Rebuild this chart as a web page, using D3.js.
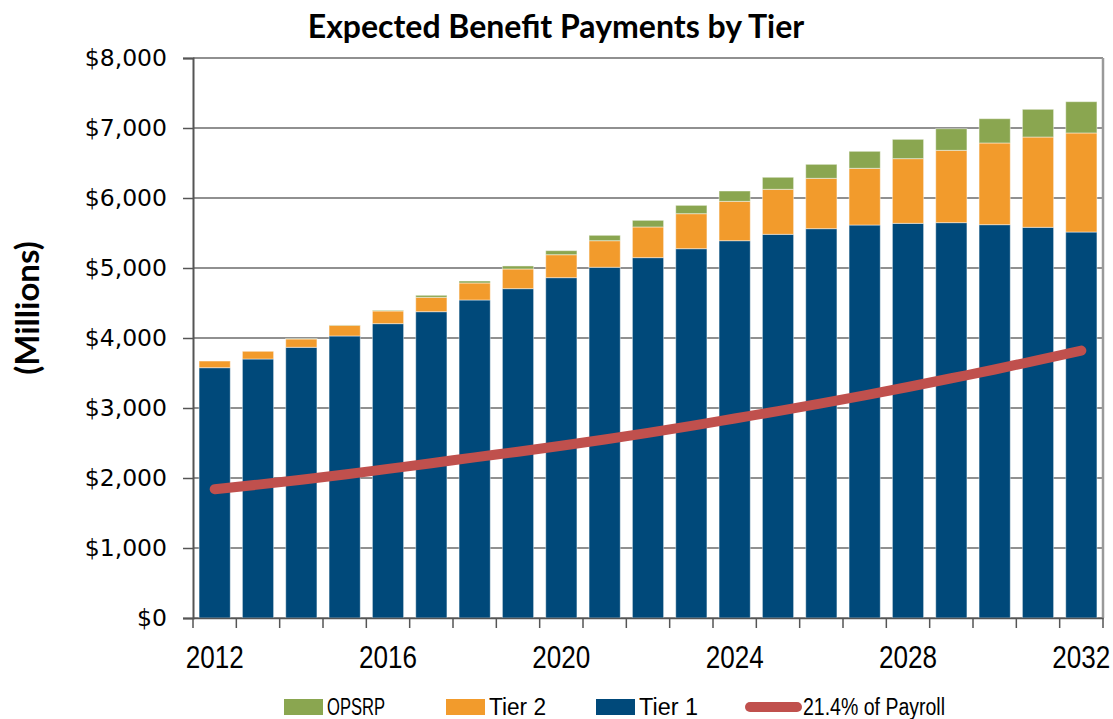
<!DOCTYPE html>
<html>
<head>
<meta charset="utf-8">
<script src="https://cdn.jsdelivr.net/npm/d3@7"></script>
<style>
  body { margin: 0; background: #fff; }
  text { fill: #000; }
</style>
</head>
<body>
<div id="chart"></div>
<script>
var years = [2012, 2013, 2014, 2015, 2016, 2017, 2018, 2019, 2020, 2021, 2022,
             2023, 2024, 2025, 2026, 2027, 2028, 2029, 2030, 2031, 2032];
var tier1 = [3576, 3700, 3867, 4029, 4205, 4376, 4543, 4705, 4862, 5010, 5148,
             5276, 5390, 5481, 5562, 5614, 5638, 5648, 5619, 5581, 5514];
var tier2 = [95, 110, 119, 152, 181, 205, 243, 281, 328, 380, 438,
             500, 562, 643, 719, 810, 924, 1033, 1167, 1290, 1415];
var opsrp = [0, 0, 4, 5, 9, 29, 28, 43, 58, 77, 95,
             119, 148, 172, 200, 243, 276, 309, 347, 396, 447];
var payroll = [1840, 1905, 1975, 2050, 2130, 2210, 2295, 2375, 2460, 2550, 2645,
               2745, 2850, 2955, 3065, 3180, 3300, 3425, 3550, 3685, 3820];
var yTicks = [0, 1000, 2000, 3000, 4000, 5000, 6000, 7000, 8000];
var xLabels = [2012, 2016, 2020, 2024, 2028, 2032];

var series = ["Tier 1", "Tier 2", "OPSRP"];
var colors = { "Tier 1": "#00497a", "Tier 2": "#f29b2c", "OPSRP": "#8aa650" };

var w = 1113, h = 719;
var mLeft = 193, mRight = 1103, mTop = 58, mBottom = 618;

var svg = d3.select("#chart").append("svg")
    .attr("width", w)
    .attr("height", h);

var x = d3.scaleBand()
    .domain(years)
    .range([mLeft, mRight])
    .paddingInner(0.28)
    .paddingOuter(0.14);

var y = d3.scaleLinear()
    .domain([0, 8000])
    .range([mBottom, mTop]);

// gridlines
svg.append("g")
  .selectAll("line")
  .data(yTicks)
  .enter().append("line")
    .attr("x1", mLeft)
    .attr("x2", mRight)
    .attr("y1", function (d) { return y(d); })
    .attr("y2", function (d) { return y(d); })
    .style("stroke", "#6b6b6b")
    .style("stroke-width", 1.5);

// right border
svg.append("line")
    .attr("x1", mRight).attr("x2", mRight)
    .attr("y1", mTop).attr("y2", mBottom)
    .style("stroke", "#9a9a9a")
    .style("stroke-width", 2.5);

var rows = years.map(function (yr, i) {
  return { year: yr, "Tier 1": tier1[i], "Tier 2": tier2[i], "OPSRP": opsrp[i] };
});

var stack = d3.stack().keys(series)(rows);

svg.append("g")
  .selectAll("g")
  .data(stack)
  .enter().append("g")
    .style("fill", function (d) { return colors[d.key]; })
  .selectAll("rect")
  .data(function (d) { return d; })
  .enter().append("rect")
    .attr("x", function (d) { return x(d.data.year); })
    .attr("width", x.bandwidth())
    .attr("y", function (d) { return y(d[1]); })
    .attr("height", function (d) { return y(d[0]) - y(d[1]); })
    .style("stroke", "rgba(255,255,255,0.45)")
    .style("stroke-width", 1);

// payroll line
var line = d3.line()
    .x(function (d, i) { return x(years[i]) + x.bandwidth() / 2; })
    .y(function (d) { return y(d); })
    .curve(d3.curveMonotoneX);

svg.append("path")
    .datum(payroll)
    .attr("d", line)
    .style("fill", "none")
    .style("stroke", "#c0504d")
    .style("stroke-width", 10)
    .style("stroke-linecap", "round");

// y axis
var yAxis = d3.axisLeft(y)
    .tickValues(yTicks)
    .tickSize(10)
    .tickPadding(16)
    .tickFormat(function (d) { return "$" + d3.format(",")(d); });

var gy = svg.append("g")
    .attr("transform", "translate(" + mLeft + ",0)")
    .call(yAxis);
gy.select(".domain").style("stroke", "#555").style("stroke-width", 2);
gy.selectAll(".tick line").style("stroke", "#555").style("stroke-width", 1.5);
gy.selectAll(".tick text")
    .style("font-family", "'DejaVu Sans', sans-serif")
    .style("font-size", "23.5px")
    .style("fill", "#000");

// x axis
var xAxis = d3.axisBottom(x)
    .tickValues([])
    .tickSizeOuter(0);

var gx = svg.append("g")
    .attr("transform", "translate(0," + mBottom + ")")
    .call(xAxis);
gx.select(".domain").style("stroke", "#555").style("stroke-width", 1.5);

var step = x.step();
gx.selectAll("line.cat")
  .data(d3.range(years.length + 1))
  .enter().append("line")
    .attr("class", "cat")
    .attr("x1", function (d) { return mLeft + d * step; })
    .attr("x2", function (d) { return mLeft + d * step; })
    .attr("y1", 0)
    .attr("y2", 10)
    .style("stroke", "#555")
    .style("stroke-width", 1.5);

gx.selectAll("text.yr")
  .data(xLabels)
  .enter().append("text")
    .attr("class", "yr")
    .attr("x", function (d) { return x(d) + x.bandwidth() / 2; })
    .attr("y", 50)
    .attr("text-anchor", "middle")
    .attr("textLength", 58)
    .attr("lengthAdjust", "spacingAndGlyphs")
    .style("font-family", "'Liberation Sans', sans-serif")
    .style("font-size", "31px")
    .style("fill", "#000")
    .text(function (d) { return d; });

// title
svg.append("text")
    .attr("x", 556)
    .attr("y", 38)
    .attr("text-anchor", "middle")
    .style("font-family", "Lato, 'Open Sans', sans-serif")
    .style("font-weight", "bold")
    .style("font-size", "32px")
    .text("Expected Benefit Payments by Tier");

svg.append("text")
    .attr("transform", "translate(39,308) rotate(-90)")
    .attr("text-anchor", "middle")
    .style("font-family", "Lato, 'Open Sans', sans-serif")
    .style("font-weight", "bold")
    .style("font-size", "33px")
    .text("(Millions)");

// legend
var legendItems = [
  { name: "OPSRP", type: "rect", color: colors["OPSRP"], x: 284, len: 58 },
  { name: "Tier 2", type: "rect", color: colors["Tier 2"], x: 446, len: 57 },
  { name: "Tier 1", type: "rect", color: colors["Tier 1"], x: 596, len: 59 },
  { name: "21.4% of Payroll", type: "line", color: "#c0504d", x: 745, len: 142 }
];

var lg = svg.append("g").selectAll("g")
  .data(legendItems)
  .enter().append("g")
    .attr("transform", function (d) { return "translate(" + d.x + ",707)"; });

lg.filter(function (d) { return d.type === "rect"; })
  .append("rect")
    .attr("x", 0).attr("y", -8)
    .attr("width", 39).attr("height", 16)
    .style("fill", function (d) { return d.color; });

lg.filter(function (d) { return d.type === "line"; })
  .append("line")
    .attr("x1", 5).attr("x2", 52)
    .attr("y1", 0).attr("y2", 0)
    .style("stroke", function (d) { return d.color; })
    .style("stroke-width", 10)
    .style("stroke-linecap", "round");

lg.append("text")
    .attr("x", function (d) { return d.type === "line" ? 58 : 43; })
    .attr("y", 8)
    .attr("textLength", function (d) { return d.len; })
    .attr("lengthAdjust", "spacingAndGlyphs")
    .style("font-family", "'Liberation Sans', sans-serif")
    .style("font-size", "23px")
    .text(function (d) { return d.name; });
</script>
</body>
</html>
